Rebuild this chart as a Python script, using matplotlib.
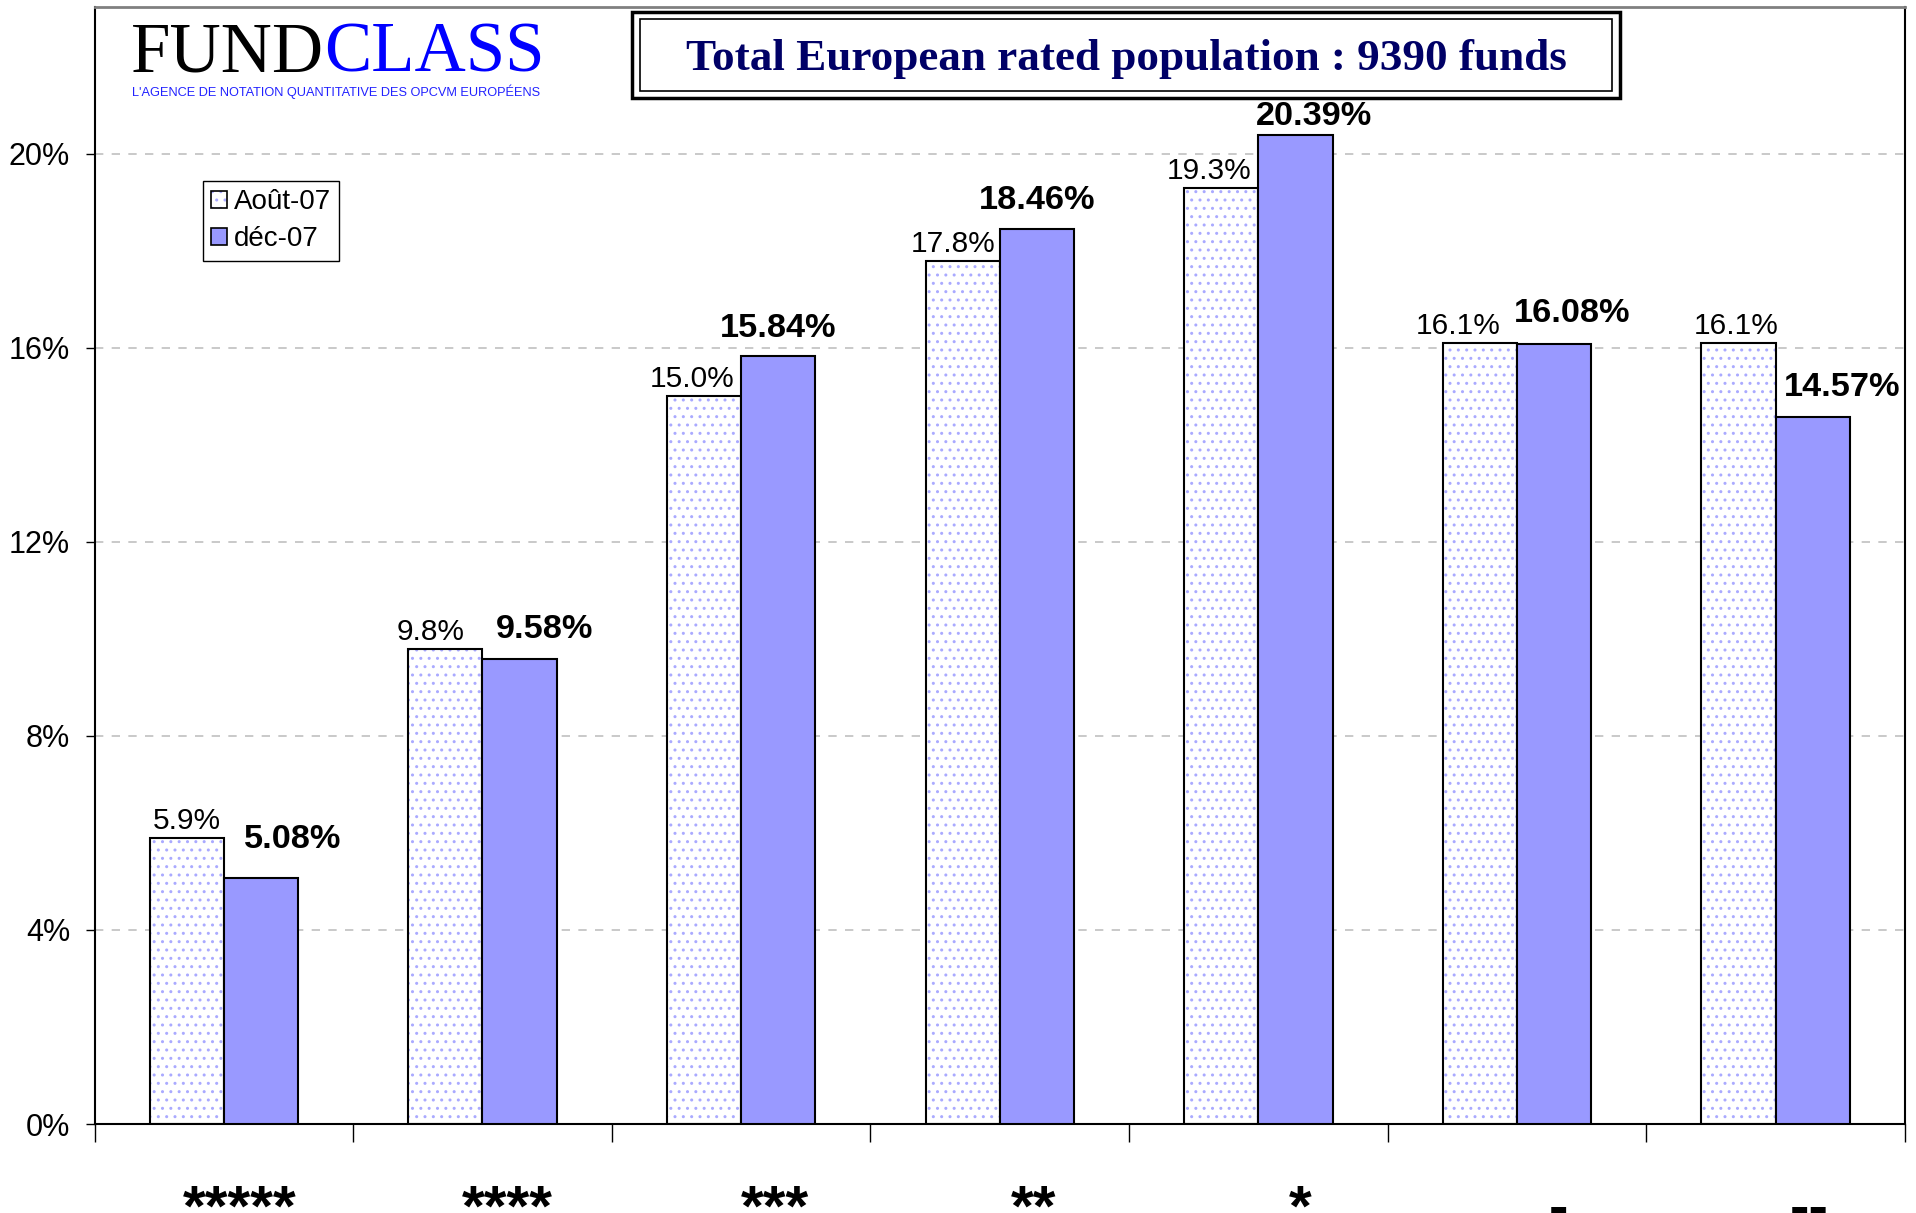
import matplotlib.pyplot as plt
from matplotlib.patches import Patch, Rectangle
from matplotlib.ticker import FuncFormatter
import numpy as np

# ---- data ----
categories = ['*****', '****', '***', '**', '*', '-', '--']
aout_07 = [5.9, 9.8, 15.0, 17.8, 19.3, 16.1, 16.1]
dec_07 = [5.08, 9.58, 15.84, 18.46, 20.39, 16.08, 14.57]
series_names = ['Août-07', 'déc-07']
y_ticks = [0, 4, 8, 12, 16, 20]
title = 'Total European rated population : 9390 funds'

# label nudges (pixels) as they were placed by hand in the original
aout_nudge = [(0, 9), (-15, 9), (-12, 9), (-10, 9), (-12, 9), (-22, 9), (-2, 9)]
dec_nudge = [(32, 30), (25, 21), (0, 19), (0, 20), (18, 10), (18, 22), (29, 21)]
cat_nudge = [16, 25, 34, 34, 42, 41, 34]

W, H = 1916, 1213
plt.rcParams['font.family'] = ['Liberation Sans', 'DejaVu Sans']
plt.rcParams['hatch.linewidth'] = 1.0

fig = plt.figure(figsize=(W / 100, H / 100), dpi=100)
ax = fig.add_axes([94.5 / W, 1 - 1124 / H, (1905 - 94.5) / W, (1124 - 7) / H])

x = np.arange(len(categories))
w = 0.287
blue = '#9999ff'

# dotted bars: hatch layer + black outline on top
ax.bar(x - w / 2, aout_07, w, color='white', edgecolor='#aaaaff', hatch='..', linewidth=0, zorder=2)
ax.bar(x - w / 2, aout_07, w, fill=False, edgecolor='black', linewidth=1.5, zorder=3)
ax.bar(x + w / 2, dec_07, w, color=blue, edgecolor='black', linewidth=1.5, zorder=3)

ax.set_xlim(-0.5, len(categories) - 0.5)
ax.set_ylim(0, 23.03)
ax.set_yticks(y_ticks)
ax.yaxis.set_major_formatter(FuncFormatter(lambda v, p: f'{v:.0f}%'))
ax.tick_params(axis='y', labelsize=22, length=6.5, width=1, pad=11, direction='out')
ax.set_xticks(np.arange(len(categories) + 1) - 0.5)
ax.set_xticklabels([])
ax.tick_params(axis='x', length=13, width=1, direction='out')
ax.yaxis.grid(True, color='#c0c0c0', linewidth=1.2, linestyle=(0, (5, 5)), zorder=0)
ax.set_axisbelow(True)

for side in ['left', 'bottom', 'right']:
    ax.spines[side].set_color('black')
    ax.spines[side].set_linewidth(1.5)
ax.spines['top'].set_color('#808080')
ax.spines['top'].set_linewidth(2)

# value labels
for i in range(len(categories)):
    ax.annotate(f'{aout_07[i]:.1f}%', xy=(x[i] - w / 2, aout_07[i]), xytext=aout_nudge[i],
                textcoords='offset pixels', ha='center', va='baseline', fontsize=21.5)
    ax.annotate(f'{dec_07[i]:.2f}%', xy=(x[i] + w / 2, dec_07[i]), xytext=dec_nudge[i],
                textcoords='offset pixels', ha='center', va='baseline', fontsize=24.7,
                fontweight='bold')
    ax.annotate(categories[i], xy=(x[i], 0), xytext=(cat_nudge[i], -102),
                textcoords='offset pixels', ha='center', va='baseline', fontsize=42,
                fontweight='bold', annotation_clip=False)

# legend
h_aout = (Patch(facecolor='white', edgecolor='#aaaaff', hatch='..', linewidth=0),
          Patch(fill=False, edgecolor='black', linewidth=1.2))
h_dec = Patch(facecolor=blue, edgecolor='black', linewidth=1.2)
leg = ax.legend([h_aout, h_dec], series_names, loc='upper left',
                bbox_to_anchor=(203 / W, 1 - 181 / H), bbox_transform=fig.transFigure,
                fontsize=20, handlelength=0.55, handleheight=0.55, handletextpad=0.25,
                labelspacing=0.4, borderpad=0.3, borderaxespad=0, fancybox=False,
                framealpha=1)
leg.get_frame().set_edgecolor('black')
leg.get_frame().set_linewidth(1.0)

# title box (double frame)
fig.patches.append(Rectangle((632 / W, 1 - 98 / H), (1620 - 632) / W, 86 / H,
                             transform=fig.transFigure, facecolor='white',
                             edgecolor='black', linewidth=2.5, zorder=5))
fig.patches.append(Rectangle((640 / W, 1 - 91 / H), (1612 - 640) / W, 72 / H,
                             transform=fig.transFigure, fill=False,
                             edgecolor='black', linewidth=1.2, zorder=5))
fig.text(1126 / W, 1 - 70 / H, title, ha='center', va='baseline', fontsize=32.5,
         fontweight='bold', color='#000066', family='Liberation Serif', zorder=6)

# logo
fund = fig.text(131 / W, 1 - 71 / H, 'FUND', ha='left', va='baseline', fontsize=51,
                color='black', family='Liberation Serif', zorder=6)
fig.canvas.draw()
fig.text(0, 0, 'CLASS', ha='left', va='bottom', fontsize=51, color='#0000ff',
         family='Liberation Serif', zorder=6,
         position=fig.transFigure.inverted().transform(
             (fund.get_window_extent().x1, fund.get_window_extent().y0)))
fig.text(132 / W, 1 - 96 / H, "L'AGENCE DE NOTATION QUANTITATIVE DES OPCVM EUROPÉENS",
         ha='left', va='baseline', fontsize=9.2, color='#2222ff',
         family=['Liberation Sans Narrow', 'Liberation Sans'], zorder=6)

fig.savefig('out.png', dpi=100)
